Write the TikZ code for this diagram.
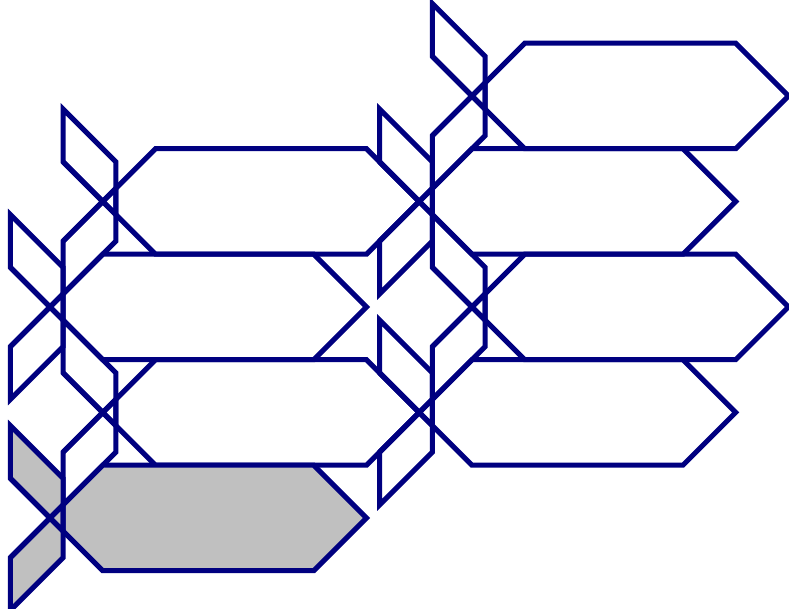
\documentclass[tikz,border=0pt]{standalone}
\definecolor{navyline}{RGB}{0,0,128}
\definecolor{silverfill}{RGB}{192,192,192}
\tikzset{
  fletchline/.style={draw=navyline, line width=2.7pt, line join=miter},
  pics/fletch/.style={code={
    \path[fill=#1] (0,0) -- (1,1) -- (5,1) -- (6,0) -- (5,-1) -- (1,-1) -- cycle;
    \path[fill=#1] (-0.75,0.75) -- (-0.75,1.75) -- (0.25,0.75) -- (0.25,-0.25) -- cycle;
    \path[fill=#1] (-0.75,-0.75) -- (-0.75,-1.75) -- (0.25,-0.75) -- (0.25,0.25) -- cycle;
    \draw[fletchline] (-0.75,-0.75) -- (1,1) -- (5,1) -- (6,0) -- (5,-1) -- (1,-1) -- (-0.75,0.75);
    \draw[fletchline] (-0.75,0.75) -- (-0.75,1.75) -- (0.25,0.75) -- (0.25,-0.25) -- cycle;
    \draw[fletchline] (-0.75,-0.75) -- (-0.75,-1.75) -- (0.25,-0.75) -- (0.25,0.25) -- cycle;
  }}
}

\begin{document}
\begin{tikzpicture}
  \useasboundingbox (-0.948,-1.725) rectangle (14.01,9.82);

  % left
  \pic at (1,6) {fletch=none};
  \pic at (0,4) {fletch=none};
  \pic at (1,2) {fletch=none};
  \pic at (0,0) {fletch=silverfill};

  % right
  \pic at (8,8) {fletch=none};
  \pic at (7,6) {fletch=none};
  \pic at (8,4) {fletch=none};
  \pic at (7,2) {fletch=none};
\end{tikzpicture}
\end{document}
